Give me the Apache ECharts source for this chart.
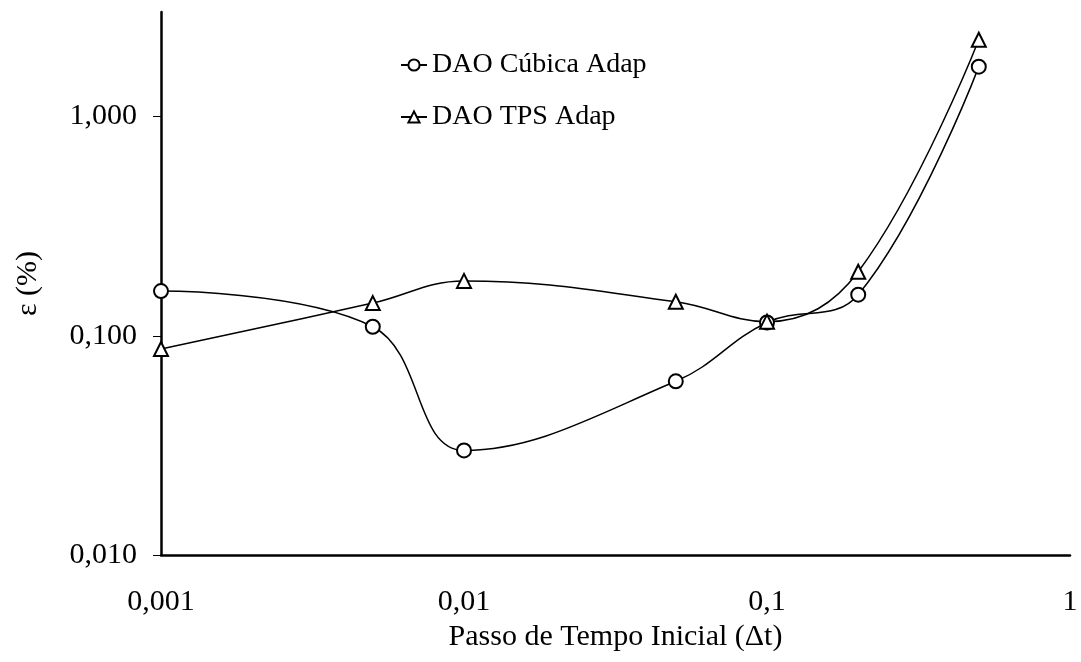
<!DOCTYPE html>
<html>
<head>
<meta charset="utf-8">
<script src="https://cdn.jsdelivr.net/npm/echarts@6/dist/echarts.min.js"></script>
<style>
  html, body { margin: 0; padding: 0; background: #fff; }
  #chart { width: 1081px; height: 662px; }
</style>
</head>
<body>
<div id="chart"></div>
<script>
// passo de tempo inicial
const dt = [0.001, 0.005, 0.01, 0.05, 0.1, 0.2, 0.5];
const cubica = [0.160, 0.110, 0.030, 0.062, 0.115, 0.154, 1.69];
const tps = [0.087, 0.141, 0.178, 0.143, 0.116, 0.196, 2.24];
const yTicks = [0.01, 0.1, 1];
const xTicks = [0.001, 0.01, 0.1, 1];

const font = 'Liberation Serif';
const fmtY = (v) => v.toFixed(3).replace('.', ',');
const fmtX = (v) => String(v).replace('.', ',');

const myChart = echarts.init(document.getElementById('chart'));
const option = {
  animation: false,
  textStyle: { fontFamily: font, color: '#000' },
  grid: { left: 161, right: 11, top: 12, bottom: 107 },
  legend: {
    orient: 'vertical',
    left: 395,
    top: 46,
    itemGap: 24,
    itemWidth: 26,
    itemHeight: 14,
    textStyle: { fontFamily: font, fontSize: 28, color: '#000' },
    data: ['DAO Cúbica Adap', 'DAO TPS Adap']
  },
  xAxis: {
    type: 'log',
    min: 0.001,
    max: 1,
    name: 'Passo de Tempo Inicial (Δt)',
    nameLocation: 'middle',
    nameGap: 60,
    nameTextStyle: { fontFamily: font, fontSize: 30, color: '#000' },
    axisLine: { lineStyle: { color: '#000', width: 2.5 } },
    axisTick: { show: false },
    splitLine: { show: false },
    axisLabel: {
      customValues: xTicks,
      fontFamily: font, fontSize: 30, color: '#000', margin: 32,
      formatter: fmtX
    }
  },
  yAxis: {
    type: 'log',
    min: 0.01,
    max: 3,
    name: 'ε (%)',
    nameLocation: 'middle',
    nameRotate: 90,
    nameGap: 118,
    nameTextStyle: { fontFamily: font, fontSize: 30, color: '#000' },
    axisLine: { lineStyle: { color: '#000', width: 2.5 } },
    axisTick: { customValues: yTicks, length: 8, lineStyle: { color: '#000' } },
    splitLine: { show: false },
    axisLabel: {
      customValues: yTicks,
      fontFamily: font, fontSize: 30, color: '#000', margin: 24,
      formatter: fmtY
    }
  },
  series: [
    {
      name: 'DAO Cúbica Adap',
      type: 'line',
      smooth: 0.4,
      data: dt.map((x, i) => [x, cubica[i]]),
      symbol: 'emptyCircle',
      symbolSize: 14,
      lineStyle: { color: '#000', width: 1.5 },
      itemStyle: { color: '#000', borderColor: '#000', borderWidth: 1.2 }
    },
    {
      name: 'DAO TPS Adap',
      type: 'line',
      smooth: 0.4,
      data: dt.map((x, i) => [x, tps[i]]),
      symbol: 'emptyTriangle',
      symbolSize: 14,
      lineStyle: { color: '#000', width: 1.5 },
      itemStyle: { color: '#000', borderColor: '#000', borderWidth: 1.2 }
    }
  ]
};
myChart.setOption(option);
</script>
</body>
</html>
